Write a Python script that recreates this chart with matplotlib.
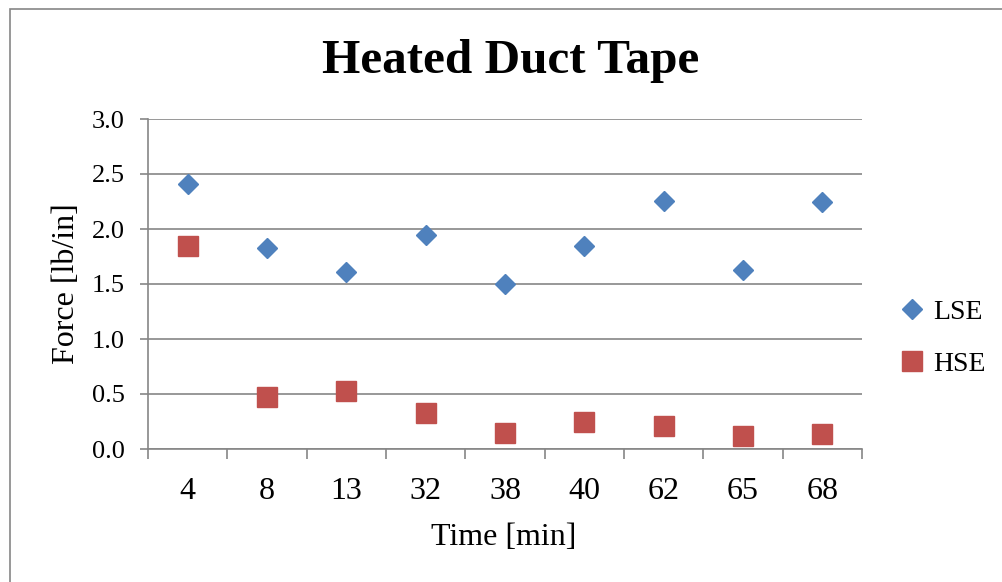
import matplotlib
matplotlib.use("Agg")
import matplotlib.pyplot as plt
from matplotlib.patches import Rectangle
from matplotlib.ticker import FixedLocator, NullFormatter, FixedFormatter

categories = ["4", "8", "13", "32", "38", "40", "62", "65", "68"]
lse = [2.41, 1.83, 1.61, 1.945, 1.50, 1.845, 2.255, 1.63, 2.245]
hse = [1.845, 0.47, 0.53, 0.33, 0.145, 0.245, 0.21, 0.12, 0.14]
yticks = [0.0, 0.5, 1.0, 1.5, 2.0, 2.5, 3.0]

W, H = 1002, 582
plt.rcParams['font.family'] = ['Liberation Serif', 'DejaVu Serif']
fig = plt.figure(figsize=(W / 100, H / 100), dpi=100)

grid_c = '#868686'
fig.patches.append(Rectangle((10 / W, -0.1), 2, (582 - 9) / H + 0.1, transform=fig.transFigure,
                             fill=False, edgecolor=grid_c, linewidth=1.2))

ax_l, ax_r, ax_t, ax_b = 148, 862, 119, 449
ax = fig.add_axes([ax_l / W, 1 - ax_b / H, (ax_r - ax_l) / W, (ax_b - ax_t) / H])
x = list(range(len(categories)))
ax.plot(x, lse, linestyle='none', marker='D', markersize=10, color='#4F81BD',
        markeredgecolor='#4F81BD', label='LSE', zorder=3)
ax.plot(x, hse, linestyle='none', marker='s', markersize=14, color='#C0504D',
        markeredgecolor='#C0504D', label='HSE', zorder=3)

ax.set_xlim(-0.5, len(categories) - 0.5)
ax.set_ylim(0, 3.0)
ax.set_yticks(yticks)
ax.set_yticklabels([f"{v:.1f}" for v in yticks], fontsize=19)
ax.yaxis.grid(True, color=grid_c, linewidth=1.2)
ax.set_axisbelow(True)

ax.xaxis.set_major_locator(FixedLocator([i - 0.5 for i in range(len(categories) + 1)]))
ax.xaxis.set_major_formatter(NullFormatter())
ax.xaxis.set_minor_locator(FixedLocator(x))
ax.xaxis.set_minor_formatter(FixedFormatter(categories))
ax.tick_params(axis='x', which='major', length=7.5, width=1.2, color=grid_c, direction='out')
ax.tick_params(axis='x', which='minor', length=0, labelsize=23, pad=20)
ax.tick_params(axis='y', length=6, width=1.2, color=grid_c, direction='out', pad=11)

for s in ['top', 'right']:
    ax.spines[s].set_visible(False)
for s in ['left', 'bottom']:
    ax.spines[s].set_color(grid_c)
    ax.spines[s].set_linewidth(1.2)

ax.set_xlabel("Time [min]", fontsize=23, va='baseline')
ax.xaxis.set_label_coords((504 - ax_l) / (ax_r - ax_l), -(545 - ax_b) / (ax_b - ax_t))
ax.set_ylabel("Force [lb/in]", fontsize=23, va='center')
ax.yaxis.set_label_coords(-(ax_l - 66) / (ax_r - ax_l), 0.5)

fig.text(511 / W, 1 - 73 / H, "Heated Duct Tape", fontsize=35.5, fontweight='bold',
         ha='center', va='baseline')

leg = ax.legend(loc='center left', bbox_to_anchor=(880 / W, 1 - 338 / H), bbox_transform=fig.transFigure,
                frameon=False, fontsize=20, handletextpad=0.1, labelspacing=0.95, handlelength=1.3,
                borderpad=0)

fig.savefig("out.png", dpi=100)
